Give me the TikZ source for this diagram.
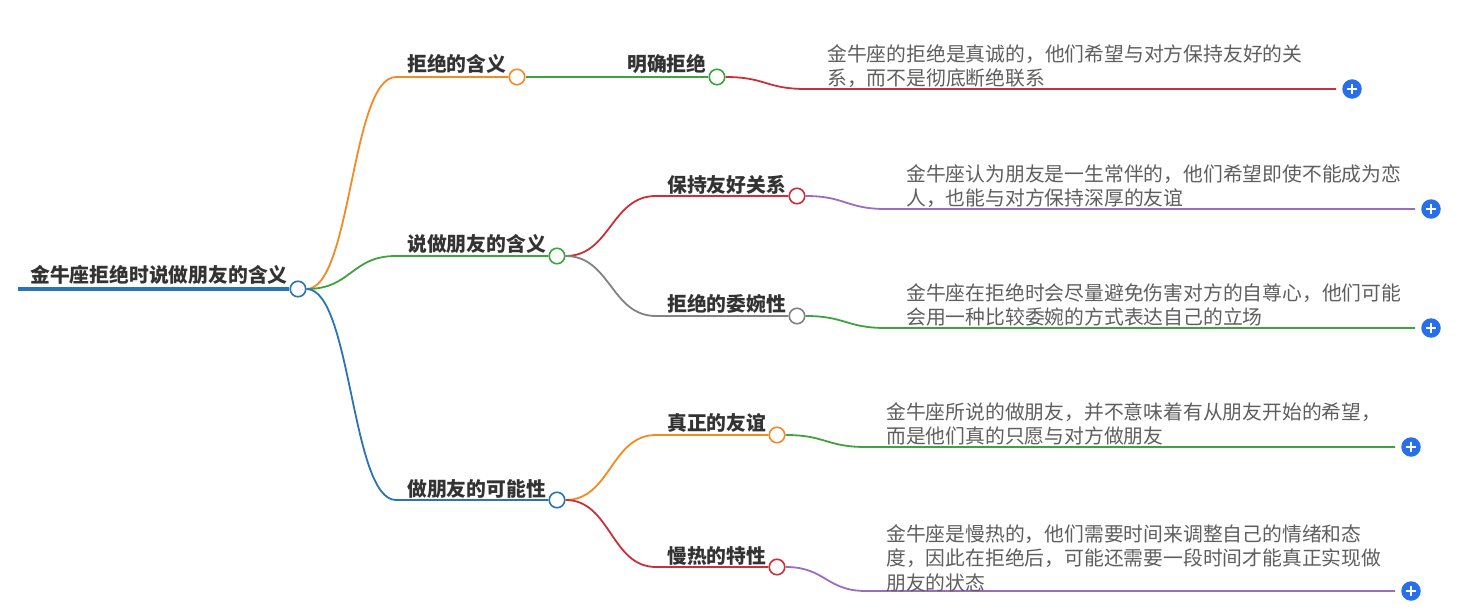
\documentclass[tikz,border=0pt]{standalone}
\usepackage{fontspec}
\setmainfont{Noto Sans CJK SC}
\definecolor{cblue}{HTML}{2B74B3}
\definecolor{corange}{HTML}{F38A26}
\definecolor{cgreen}{HTML}{3DA33D}
\definecolor{cred}{HTML}{C9303A}
\definecolor{cgrey}{HTML}{828282}
\definecolor{cpurple}{HTML}{9A6DC0}
\definecolor{plusblue}{HTML}{2A6FEA}
\definecolor{txtdark}{HTML}{333333}
\definecolor{txtgrey}{HTML}{5E5E5E}

\begin{document}
\begin{tikzpicture}[x=1pt,y=-1pt,
	dot/.style={circle,draw,fill=white,line width=1.6pt,minimum size=15.5pt,inner sep=0pt},
	topic/.style={anchor=base west,inner sep=0pt,text=txtdark,font=\fontsize{19.8}{24}\selectfont\bfseries},
	leaf/.style={anchor=north west,inner sep=0pt,align=left,text=txtgrey,font=\fontsize{19.8}{24.5}\selectfont},
	plus/.style={circle,fill=plusblue,minimum size=19.5pt,inner sep=0pt,
		path picture={\draw[white,line width=1.8pt]
			([xshift=4.5pt]path picture bounding box.west) -- ([xshift=-4.5pt]path picture bounding box.east)
			([yshift=-4.5pt]path picture bounding box.north) -- ([yshift=4.5pt]path picture bounding box.south);}},
	branch/.style={line width=1.8pt}]
	\useasboundingbox (0,0) rectangle (1469,615);

	% root
	\node[dot,draw=cblue] (root) at (298,289) {};
	\coordinate (r0) at (18,289);
	\draw[cblue,line width=4pt] (r0) -- (root.west);
	\node[topic] (troot) at (30,282) {金牛座拒绝时说做朋友的含义};

	% first level
	\node[dot,draw=corange] (b1) at (517,77) {};
	\node[dot,draw=cgreen] (b2) at (557,256) {};
	\node[dot,draw=cblue] (b3) at (557,500) {};
	\coordinate (b1s) at (396,77);
	\coordinate (b2s) at (396,256);
	\coordinate (b3s) at (396,500);
	\draw[corange,branch] (root.east) .. controls +(45,0) and +(-45,0) .. (b1s) -- (b1.west);
	\draw[cgreen,branch] (root.east) .. controls +(45,0) and +(-45,0) .. (b2s) -- (b2.west);
	\draw[cblue,branch] (root.east) .. controls +(45,0) and +(-45,0) .. (b3s) -- (b3.west);
	\node[topic] (tb1) at (407,72) {拒绝的含义};
	\node[topic] (tb2) at (407,251) {说做朋友的含义};
	\node[topic] (tb3) at (407,496) {做朋友的可能性};

	% second level
	\node[dot,draw=cgreen] (c1) at (717,77) {};
	\node[dot,draw=cred] (c2) at (797,196) {};
	\node[dot,draw=cgrey] (c3) at (797,316) {};
	\node[dot,draw=corange] (c4) at (777,435) {};
	\node[dot,draw=cred] (c5) at (777,567) {};
	\coordinate (c2s) at (656,196);
	\coordinate (c3s) at (656,316);
	\coordinate (c4s) at (656,435);
	\coordinate (c5s) at (656,567);
	\draw[cgreen,branch] (b1.east) -- (c1.west);
	\draw[cred,branch] (b2.east) .. controls +(45,0) and +(-45,0) .. (c2s) -- (c2.west);
	\draw[cgrey,branch] (b2.east) .. controls +(45,0) and +(-45,0) .. (c3s) -- (c3.west);
	\draw[corange,branch] (b3.east) .. controls +(45,0) and +(-45,0) .. (c4s) -- (c4.west);
	\draw[cred,branch] (b3.east) .. controls +(45,0) and +(-45,0) .. (c5s) -- (c5.west);
	\node[topic] (tc1) at (627,72) {明确拒绝};
	\node[topic] (tc2) at (667,192) {保持友好关系};
	\node[topic] (tc3) at (667,311) {拒绝的委婉性};
	\node[topic] (tc4) at (667,430) {真正的友谊};
	\node[topic] (tc5) at (667,563) {慢热的特性};

	% leaves
	\node[plus] (p1) at (1352,89) {};
	\node[plus] (p2) at (1431,209) {};
	\node[plus] (p3) at (1431,328) {};
	\node[plus] (p4) at (1411,447) {};
	\node[plus] (p5) at (1411,591) {};
	\coordinate (d1s) at (806,89);
	\coordinate (d2s) at (886,209);
	\coordinate (d3s) at (886,328);
	\coordinate (d4s) at (866,447);
	\coordinate (d5s) at (866,591);
	\draw[cred,branch] (c1.east) .. controls +(40,0) and +(-40,0) .. (d1s) -- ([xshift=-6pt]p1.west);
	\draw[cpurple,branch] (c2.east) .. controls +(40,0) and +(-40,0) .. (d2s) -- ([xshift=-6pt]p2.west);
	\draw[cgreen,branch] (c3.east) .. controls +(40,0) and +(-40,0) .. (d3s) -- ([xshift=-6pt]p3.west);
	\draw[cgreen,branch] (c4.east) .. controls +(40,0) and +(-40,0) .. (d4s) -- ([xshift=-6pt]p4.west);
	\draw[cpurple,branch] (c5.east) .. controls +(40,0) and +(-40,0) .. (d5s) -- ([xshift=-6pt]p5.west);
	\node[leaf] (l1) at (827,44) {金牛座的拒绝是真诚的，他们希望与对方保持友好的关\\系，而不是彻底断绝联系};
	\node[leaf] (l2) at (906,164) {金牛座认为朋友是一生常伴的，他们希望即使不能成为恋\\人，也能与对方保持深厚的友谊};
	\node[leaf] (l3) at (906,283) {金牛座在拒绝时会尽量避免伤害对方的自尊心，他们可能\\会用一种比较委婉的方式表达自己的立场};
	\node[leaf] (l4) at (886,402) {金牛座所说的做朋友，并不意味着有从朋友开始的希望，\\而是他们真的只愿与对方做朋友};
	\node[leaf] (l5) at (886,524) {金牛座是慢热的，他们需要时间来调整自己的情绪和态\\度，因此在拒绝后，可能还需要一段时间才能真正实现做\\朋友的状态};

\end{tikzpicture}
\end{document}
